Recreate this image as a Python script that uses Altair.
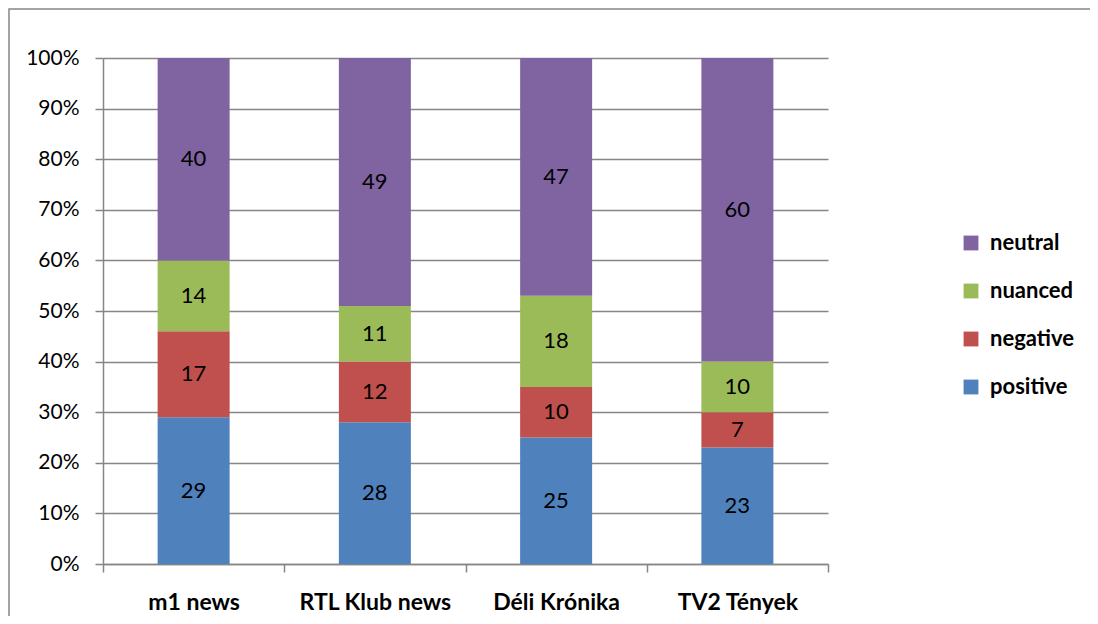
import altair as alt
import pandas as pd

channels = ["m1 news", "RTL Klub news", "Déli Krónika", "TV2 Tények"]
tones = ["positive", "negative", "nuanced", "neutral"]
positive = [29, 28, 25, 23]
negative = [17, 12, 10, 7]
nuanced = [14, 11, 18, 10]
neutral = [40, 49, 47, 60]
tone_colors = {"positive": "#4F81BD", "negative": "#C0504D", "nuanced": "#9BBB59", "neutral": "#8064A2"}
legend_order = ["neutral", "nuanced", "negative", "positive"]
y_ticks = [0, 0.1, 0.2, 0.3, 0.4, 0.5, 0.6, 0.7, 0.8, 0.9, 1.0]

series = [positive, negative, nuanced, neutral]
rows = []
for i, ch in enumerate(channels):
    for j, t in enumerate(tones):
        rows.append({"channel": ch, "tone": t, "value": series[j][i], "order": j})
df = pd.DataFrame(rows)

FONT = "Lato"
GRAY = "#868686"

base = alt.Chart(df).transform_stack(
    stack="value",
    groupby=["channel"],
    as_=["v0", "v1"],
    offset="normalize",
    sort=[alt.SortField("order", order="ascending")],
).transform_calculate(mid="(datum.v0 + datum.v1) / 2")

x_enc = alt.X(
    "channel:N",
    sort=channels,
    title=None,
    scale=alt.Scale(paddingInner=0, paddingOuter=0),
    axis=alt.Axis(
        labelAngle=0,
        labelFont=FONT,
        labelFontSize=23,
        labelFontWeight="bold",
        labelColor="black",
        domainColor=GRAY,
        domainWidth=1.5,
        tickColor=GRAY,
        tickWidth=1.5,
        tickSize=8,
        tickBand="extent",
        labelPadding=19,
        grid=False,
    ),
)

y_enc = alt.Y(
    "v0:Q",
    title=None,
    scale=alt.Scale(domain=[0, 1], nice=False),
    axis=alt.Axis(
        values=y_ticks,
        format=".0%",
        labelFont=FONT,
        labelFontSize=21,
        labelColor="black",
        domainColor=GRAY,
        domainWidth=1.5,
        tickColor=GRAY,
        tickWidth=1.5,
        tickSize=8,
        labelPadding=16,
        grid=True,
        gridColor=GRAY,
        gridWidth=1.5,
    ),
)

bars = base.mark_bar(size=72).encode(
    x=x_enc,
    y=y_enc,
    y2="v1:Q",
    color=alt.Color(
        "tone:N",
        scale=alt.Scale(domain=legend_order, range=[tone_colors[t] for t in legend_order]),
        legend=alt.Legend(
            title=None,
            orient="none",
            legendX=857,
            legendY=174,
            symbolType="square",
            symbolSize=220,
            symbolStrokeWidth=0,
            labelFont=FONT,
            labelFontSize=22,
            labelFontWeight="bold",
            labelColor="black",
            labelOffset=8,
            rowPadding=26,
            padding=0,
        ),
    ),
)

labels = base.mark_text(font=FONT, fontSize=22, color="black").encode(
    x=alt.X("channel:N", sort=channels),
    y=alt.Y("mid:Q"),
    text=alt.Text("value:Q"),
)

frame = alt.Chart(pd.DataFrame({"f": [0]})).mark_rect(
    fillOpacity=0, stroke=GRAY, strokeWidth=1.5
).encode(
    x=alt.value(-94),
    x2=alt.value(1400),
    y=alt.value(-49),
    y2=alt.value(900),
)

chart = alt.layer(frame, bars, labels).properties(
    width=725,
    height=506,
    padding={"left": 95, "top": 50, "right": 262, "bottom": 52},
    autosize=alt.AutoSizeParams(type="none"),
).configure_view(strokeWidth=0)

chart.save("out.html", embed_options={"renderer": "svg", "actions": False})
